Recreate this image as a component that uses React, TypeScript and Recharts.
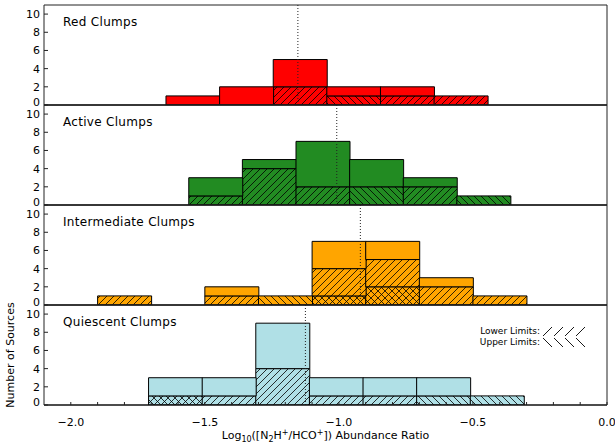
import React from "react";
import { Bar, Cell, ComposedChart, Legend, ReferenceLine, XAxis, YAxis } from "recharts";

// bin centres (log10 ratio), counts per bin, and how many of them are lower / upper limits
const redBins = [-1.545, -1.345, -1.145, -0.945, -0.745, -0.545];
const redTotal = [1, 2, 5, 2, 2, 1];
const redLower = [0, 0, 2, 0, 1, 1];
const redUpper = [0, 0, 0, 1, 0, 0];
const redMedian = -1.153;

const activeBins = [-1.46, -1.26, -1.06, -0.86, -0.66, -0.46];
const activeTotal = [3, 5, 7, 5, 3, 1];
const activeLower = [1, 4, 2, 0, 2, 0];
const activeUpper = [0, 0, 0, 2, 0, 1];
const activeMedian = -1.008;

const interBins = [-1.8, -1.6, -1.4, -1.2, -1.0, -0.8, -0.6, -0.4];
const interTotal = [1, 0, 2, 1, 7, 7, 3, 1];
const interLower = [1, 0, 1, 0, 4, 5, 2, 1];
const interUpper = [0, 0, 0, 1, 1, 2, 0, 0];
const interMedian = -0.92;

const quiBins = [-1.61, -1.41, -1.21, -1.01, -0.81, -0.61, -0.41];
const quiTotal = [3, 3, 9, 3, 3, 3, 1];
const quiLower = [1, 1, 4, 1, 1, 0, 0];
const quiUpper = [1, 0, 0, 0, 0, 1, 1];
const quiMedian = -1.125;

const majorTicks = [-2.0, -1.5, -1.0, -0.5, 0.0];
const minorTicks = [
  -2.0, -1.9, -1.8, -1.7, -1.6, -1.5, -1.4, -1.3, -1.2, -1.1, -1.0,
  -0.9, -0.8, -0.7, -0.6, -0.5, -0.4, -0.3, -0.2, -0.1, 0.0,
];
const yTicks = [0, 2, 4, 6, 8, 10];

const panels = [
  { name: "Red Clumps", color: "#ff0000", bins: redBins, total: redTotal, lower: redLower, upper: redUpper, median: redMedian },
  { name: "Active Clumps", color: "#228b22", bins: activeBins, total: activeTotal, lower: activeLower, upper: activeUpper, median: activeMedian },
  { name: "Intermediate Clumps", color: "#ffa500", bins: interBins, total: interTotal, lower: interLower, upper: interUpper, median: interMedian },
  { name: "Quiescent Clumps", color: "#b0e0e6", bins: quiBins, total: quiTotal, lower: quiLower, upper: quiUpper, median: quiMedian },
];

type Panel = (typeof panels)[number];

const DOMAIN: [number, number] = [-2.1, 0];
const AXIS = "#222";

function rowsOf(p: Panel) {
  return p.bins.map((x, i) => {
    const lo = p.lower[i];
    const up = p.upper[i];
    const cross = Math.min(lo, up);
    const single = Math.max(lo, up) - cross;
    return { x, cross, single, rest: p.total[i] - cross - single, dir: lo >= up ? "lo" : "up" };
  });
}

function Hatch({ id, color, kind }: { id: string; color: string; kind: "lo" | "up" | "x" }) {
  const s = 7;
  return (
    <pattern id={id} patternUnits="userSpaceOnUse" width={s} height={s}>
      <rect width={s} height={s} fill={color} />
      {kind !== "up" && (
        <path d={`M0,${s} L${s},0 M-1,1 L1,-1 M${s - 1},${s + 1} L${s + 1},${s - 1}`} stroke="#000" strokeWidth={0.8} />
      )}
      {kind !== "lo" && (
        <path d={`M0,0 L${s},${s} M-1,${s - 1} L1,${s + 1} M${s - 1},-1 L${s + 1},1`} stroke="#000" strokeWidth={0.8} />
      )}
    </pattern>
  );
}

const fmtX = (v: number) =>
  majorTicks.some((m) => Math.abs(m - v) < 1e-6) ? v.toFixed(1).replace("-", "\u2212") : "";

// y tick labels; the 0 is nudged up so it clears the next panel's 10
function YTick(props: any) {
  const { x, y, payload } = props;
  return (
    <text x={x} y={y + (payload.value === 0 ? -3 : 0)} dy="0.36em" textAnchor="end" fontSize={11} fill="#000">
      {payload.value}
    </text>
  );
}

function LimitsKey() {
  const marks = [0, 1, 2, 3];
  return (
    <svg width={130} height={28} style={{ display: "block" }}>
      <text x={70} y={12} textAnchor="end" fontSize={9} fill="#000">Lower Limits:</text>
      <text x={70} y={23} textAnchor="end" fontSize={9} fill="#000">Upper Limits:</text>
      {marks.map((i) => (
        <line key={"l" + i} x1={73 + 11 * i} y1={14} x2={82 + 11 * i} y2={5} stroke="#000" strokeWidth={0.9} />
      ))}
      {marks.map((i) => (
        <line key={"u" + i} x1={73 + 11 * i} y1={16} x2={82 + 11 * i} y2={25} stroke="#000" strokeWidth={0.9} />
      ))}
    </svg>
  );
}

function PanelChart({ panel, index }: { panel: Panel; index: number }) {
  const last = index === panels.length - 1;
  const rows = rowsOf(panel);
  const lo = `lo-${index}`;
  const up = `up-${index}`;
  const cx = `cx-${index}`;

  return (
    <div style={{ position: "absolute", left: 0, top: index * 100 }}>
      <ComposedChart
        width={615}
        height={last ? 144 : 110}
        data={rows}
        margin={{ top: 4, right: 7, bottom: last ? 0 : 4, left: 0 }}
        barCategoryGap={0}
        barGap={0}
      >
        <defs>
          <Hatch id={lo} color={panel.color} kind="lo" />
          <Hatch id={up} color={panel.color} kind="up" />
          <Hatch id={cx} color={panel.color} kind="x" />
        </defs>
        <XAxis
          xAxisId="top"
          orientation="top"
          type="number"
          dataKey="x"
          domain={DOMAIN}
          allowDataOverflow
          ticks={majorTicks}
          interval={0}
          tick={false}
          tickSize={-3}
          height={1}
          stroke={AXIS}
          axisLine={{ stroke: AXIS }}
          tickLine={{ stroke: AXIS }}
          label={(props: any) => {
            const vb = props.viewBox || { x: 44, y: 4, height: 1 };
            return (
              <text x={vb.x + 19} y={vb.y + vb.height + 21} fontSize={12} letterSpacing={0.3} fill="#000">
                {panel.name}
              </text>
            );
          }}
        />
        <XAxis
          xAxisId="b"
          type="number"
          dataKey="x"
          domain={DOMAIN}
          allowDataOverflow
          ticks={minorTicks}
          interval={0}
          tickSize={-3}
          tickMargin={16}
          height={last ? 39 : 1}
          tick={last ? { fontSize: 11, fill: "#000" } : false}
          tickFormatter={fmtX}
          stroke="#111"
          axisLine={{ stroke: "#111", strokeWidth: 1.5 }}
          tickLine={{ stroke: AXIS }}
          label={
            last
              ? (props: any) => {
                  const vb = props.viewBox || { x: 44, width: 563, y: 104 };
                  return (
                    <text x={vb.x + vb.width / 2} y={vb.y + 34} textAnchor="middle" fontSize={11} fill="#000">
                      Log<tspan dy={3} fontSize={8}>10</tspan>
                      <tspan dy={-3}>([N</tspan>
                      <tspan dy={3} fontSize={8}>2</tspan>
                      <tspan dy={-3}>H</tspan>
                      <tspan dy={-4} fontSize={8}>+</tspan>
                      <tspan dy={4}>/HCO</tspan>
                      <tspan dy={-4} fontSize={8}>+</tspan>
                      <tspan dy={4}>]) Abundance Ratio</tspan>
                    </text>
                  );
                }
              : undefined
          }
        />
        <YAxis
          yAxisId="l"
          type="number"
          domain={[0, 11]}
          allowDataOverflow
          ticks={yTicks}
          interval={0}
          width={44}
          tickSize={-4}
          tickMargin={8}
          tick={<YTick />}
          stroke={AXIS}
          axisLine={{ stroke: AXIS }}
          tickLine={{ stroke: AXIS }}
          label={
            last
              ? (props: any) => {
                  const vb = props.viewBox || { x: 0, y: 5, height: 99 };
                  const y = vb.y + vb.height / 2;
                  return (
                    <text
                      x={10}
                      y={y}
                      transform={`rotate(-90, 10, ${y})`}
                      textAnchor="middle"
                      dominantBaseline="central"
                      fontSize={11}
                      fill="#000"
                    >
                      Number of Sources
                    </text>
                  );
                }
              : undefined
          }
        />
        <YAxis
          yAxisId="r"
          orientation="right"
          type="number"
          domain={[0, 11]}
          allowDataOverflow
          ticks={yTicks}
          interval={0}
          width={1}
          tick={false}
          tickSize={-4}
          stroke={AXIS}
          axisLine={{ stroke: AXIS }}
          tickLine={{ stroke: AXIS }}
        />
        <Bar dataKey="cross" stackId="s" xAxisId="b" yAxisId="l" fill={`url(#${cx})`} stroke="#000" strokeWidth={1} isAnimationActive={false} />
        <Bar dataKey="single" stackId="s" xAxisId="b" yAxisId="l" stroke="#000" strokeWidth={1} isAnimationActive={false}>
          {rows.map((r, i) => (
            <Cell key={i} fill={`url(#${r.dir === "lo" ? lo : up})`} />
          ))}
        </Bar>
        <Bar dataKey="rest" stackId="s" xAxisId="b" yAxisId="l" fill={panel.color} stroke="#000" strokeWidth={1} isAnimationActive={false} />
        <ReferenceLine x={panel.median} xAxisId="b" yAxisId="l" stroke="#222" strokeWidth={1} strokeDasharray="1 2" />
        {last && (
          <Legend
            layout="horizontal"
            verticalAlign="middle"
            align="center"
            width={130}
            wrapperStyle={{ left: 470, top: 22, width: 130 }}
            content={() => <LimitsKey />}
          />
        )}
      </ComposedChart>
    </div>
  );
}

export default function App() {
  return (
    <div
      style={{
        position: "absolute",
        left: 0,
        top: 0,
        width: 615,
        height: 444,
        background: "#fff",
        fontFamily: "'DejaVu Sans', sans-serif",
        overflow: "hidden",
      }}
    >
      {panels.map((p, i) => (
        <PanelChart key={p.name} panel={p} index={i} />
      ))}
    </div>
  );
}
